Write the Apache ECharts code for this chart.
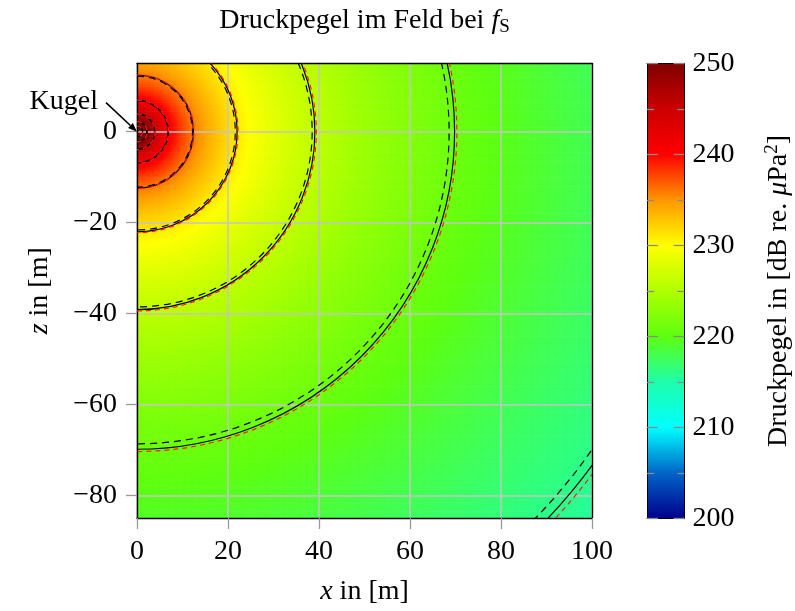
<!DOCTYPE html>
<html><head><meta charset="utf-8">
<script src="https://cdn.jsdelivr.net/npm/echarts@6/dist/echarts.min.js"></script>
<style>html,body{margin:0;padding:0;background:#fff}#c{width:795px;height:611px}</style>
</head><body><div id="c"></div>
<script>
// ---- data ----
const xTicks = [0, 20, 40, 60, 80, 100];
const zTicks = [-80, -60, -40, -20, 0];
const cbarTicks = [200, 210, 220, 230, 240, 250];
// iso-levels (dB re. µPa²) and the radii (m) where the solid contours cross them
const contourLevels = [256, 251, 246, 241, 236, 231, 226, 221, 216];
const radiusSolid  = [1.24, 2.2, 3.9, 6.9, 12.4, 22.0, 39.1, 69.8, 124.0];
const radiusDashed = [1.22, 2.15, 3.84, 6.8, 12.2, 21.6, 38.5, 68.6, 122.0];
const radiusRed    = [1.25, 2.22, 3.93, 6.95, 12.5, 22.2, 39.4, 70.3, 125.2];
// colour map stops 200,205,...,250
const mapColors = ['#00008c','#0064c8','#00ffff','#1effaa','#5cff10','#afff00','#ffff00','#ff9600','#ff0000','#cc0000','#800000'];

const FONT = '"Liberation Serif", "Times New Roman", serif';
const FS = 28;

// level field from the radial profile (log-radius between read contour radii)
function levelAt(r) {
  if (r <= radiusSolid[0]) return contourLevels[0];
  let i = 0;
  while (i < radiusSolid.length - 2 && r > radiusSolid[i + 1]) i++;
  const l0 = Math.log(radiusSolid[i]), l1 = Math.log(radiusSolid[i + 1]);
  const t = (Math.log(r) - l0) / (l1 - l0);
  const v = contourLevels[i] + t * (contourLevels[i + 1] - contourLevels[i]);
  return Math.max(200, Math.min(250, v));
}
const CELL = 0.5;
const cells = [];
for (let x = CELL / 2; x < 100; x += CELL) {
  for (let z = -85 + CELL / 2; z < 15; z += CELL) {
    cells.push([x, z, levelAt(Math.hypot(x, z))]);
  }
}

const rich = {
  n:   { fontFamily: FONT, fontSize: FS, color: '#000', lineHeight: 32 },
  i:   { fontFamily: FONT, fontSize: FS, color: '#000', lineHeight: 32, fontStyle: 'italic' },
  sub: { fontFamily: FONT, fontSize: 19, color: '#000', verticalAlign: 'bottom' },
  sup: { fontFamily: FONT, fontSize: 19, color: '#000', verticalAlign: 'top' }
};
const nameStyle = { fontFamily: FONT, fontSize: FS, color: '#000', rich: rich };
const labelStyle = { fontFamily: FONT, fontSize: FS, color: '#000' };
const minus = v => (v < 0 ? '\u2212' + (-v) : String(v));

function arcRenderer(color, dash) {
  return function (params, api) {
    const c = api.coord([0, 0]);
    const e = api.coord([api.value(0), 0]);
    return {
      type: 'arc',
      shape: { cx: c[0], cy: c[1], r: e[0] - c[0], startAngle: -Math.PI / 2, endAngle: Math.PI / 2, clockwise: true },
      style: { stroke: color, lineWidth: 1.2, fill: 'none', lineDash: dash }
    };
  };
}

const chart = echarts.init(document.getElementById('c'), null, { renderer: 'canvas' });
const option = {
  animation: false,
  backgroundColor: '#fff',
  grid: [
    { left: 137, top: 63.5, width: 455, height: 455 },
    { left: 647, top: 63.5, width: 37.5, height: 455 }
  ],
  xAxis: [
    { gridIndex: 0, type: 'value', min: 0, max: 100, interval: 20, position: 'bottom', z: 3,
      axisLine: { onZero: false, lineStyle: { color: '#000', width: 1.4 } },
      axisTick: { show: true, inside: false, length: 11, lineStyle: { color: '#999', width: 1.3 } },
      axisLabel: Object.assign({ margin: 20 }, labelStyle),
      splitLine: { show: true, lineStyle: { color: '#c4c4c4', width: 1.5 } },
      name: '{i|x}{n| in [m]}', nameLocation: 'middle', nameGap: 58, nameTextStyle: nameStyle },
    { gridIndex: 0, type: 'value', min: 0, max: 100, position: 'top', z: 3,
      axisLine: { onZero: false, lineStyle: { color: '#000', width: 1.4 } },
      axisTick: { show: false }, axisLabel: { show: false }, splitLine: { show: false },
      name: '{n|Druckpegel im Feld bei }{i|f}{sub|S}', nameLocation: 'middle', nameGap: 27, nameTextStyle: nameStyle },
    { gridIndex: 1, type: 'value', min: 0, max: 1, position: 'bottom', z: 10,
      axisLine: { onZero: false, lineStyle: { color: '#000', width: 1 } },
      axisTick: { show: false }, axisLabel: { show: false }, splitLine: { show: false } },
    { gridIndex: 1, type: 'value', min: 0, max: 1, position: 'top', z: 10,
      axisLine: { onZero: false, lineStyle: { color: '#000', width: 1 } },
      axisTick: { show: false }, axisLabel: { show: false }, splitLine: { show: false } }
  ],
  yAxis: [
    { gridIndex: 0, type: 'value', min: -85, max: 15, position: 'left', z: 3,
      axisLine: { onZero: false, lineStyle: { color: '#000', width: 1.4 } },
      axisTick: { show: true, inside: false, length: 11, customValues: zTicks, lineStyle: { color: '#999', width: 1.3 } },
      axisLabel: Object.assign({ margin: 20, customValues: zTicks, formatter: minus }, labelStyle),
      splitLine: { show: true, lineStyle: { color: '#c4c4c4', width: 1.5 } },
      name: '{i|z}{n| in [m]}', nameLocation: 'middle', nameGap: 81, nameRotate: 90, nameTextStyle: nameStyle },
    { gridIndex: 0, type: 'value', min: -85, max: 15, position: 'right', z: 3,
      axisLine: { onZero: false, lineStyle: { color: '#000', width: 1.4 } },
      axisTick: { show: false }, axisLabel: { show: false }, splitLine: { show: false } },
    { gridIndex: 1, type: 'value', min: 200, max: 250, interval: 10, position: 'left', z: 10,
      axisLine: { onZero: false, lineStyle: { color: '#000', width: 1 } },
      axisTick: { show: true, inside: true, length: 11, lineStyle: { color: '#8a8a8a', width: 1.3 } },
      minorTick: { show: true, splitNumber: 2, length: 7, lineStyle: { color: '#8a8a8a', width: 1.3 } },
      axisLabel: { show: false }, splitLine: { show: false } },
    { gridIndex: 1, type: 'value', min: 200, max: 250, interval: 10, position: 'right', z: 10,
      axisLine: { onZero: false, lineStyle: { color: '#000', width: 1 } },
      axisTick: { show: true, inside: true, length: 11, customValues: cbarTicks, lineStyle: { color: '#8a8a8a', width: 1.3 } },
      minorTick: { show: true, splitNumber: 2, length: 7, lineStyle: { color: '#8a8a8a', width: 1.3 } },
      axisLabel: Object.assign({ margin: 8, customValues: cbarTicks }, labelStyle),
      splitLine: { show: false },
      name: '{n|Druckpegel in [dB re. }{i|\u03bc}{n|Pa}{sup|2}{n|]}', nameLocation: 'middle', nameGap: 78, nameRotate: 90, nameTextStyle: nameStyle }
  ],
  visualMap: {
    type: 'continuous', seriesIndex: 0, dimension: 2, min: 200, max: 250,
    left: 647, top: 63.5, itemWidth: 37.5, itemHeight: 455, padding: 0,
    calculable: false, hoverLink: false, orient: 'vertical',
    inRange: { color: mapColors }, z: 4
  },
  series: [
    { type: 'custom', name: 'field', xAxisIndex: 0, yAxisIndex: 0, z: 1, silent: true, clip: true, progressive: 0,
      dimensions: ['x', 'z', 'level'], encode: { x: 0, y: 1 }, data: cells,
      renderItem: function (params, api) {
        const x = api.value(0), z = api.value(1), h = CELL / 2;
        const p0 = api.coord([x - h, z + h]);
        const p1 = api.coord([x + h, z - h]);
        return { type: 'rect', shape: { x: p0[0], y: p0[1], width: p1[0] - p0[0] + 0.6, height: p1[1] - p0[1] + 0.6 },
                 style: { fill: api.visual('color') } };
      } },
    { type: 'custom', name: 'dashed', xAxisIndex: 0, yAxisIndex: 0, z: 4, silent: true, clip: true,
      encode: { x: 0, y: 1 }, data: radiusDashed.map(r => [r, 0]), renderItem: arcRenderer('#000', [7, 5]) },
    { type: 'custom', name: 'solid', xAxisIndex: 0, yAxisIndex: 0, z: 5, silent: true, clip: true,
      encode: { x: 0, y: 1 }, data: radiusSolid.map(r => [r, 0]), renderItem: arcRenderer('#000', null) },
    { type: 'custom', name: 'red', xAxisIndex: 0, yAxisIndex: 0, z: 6, silent: true, clip: true,
      encode: { x: 0, y: 1 }, data: radiusRed.map(r => [r, 0]), renderItem: arcRenderer('#ff1a1a', [5, 4]) }
  ]
};
chart.setOption(option);

// "Kugel" annotation pointing at the origin
const o = chart.convertToPixel({ xAxisIndex: 0, yAxisIndex: 0 }, [0, 0]);
const dx = 31, dy = 29, L = Math.hypot(dx, dy), ux = dx / L, uy = dy / L;
const bx = o[0] - ux * 9, by = o[1] - uy * 9;
chart.setOption({
  graphic: [
    { type: 'line', z: 20, shape: { x1: o[0] - dx, y1: o[1] - dy, x2: bx, y2: by }, style: { stroke: '#000', lineWidth: 1.6 } },
    { type: 'polygon', z: 20, shape: { points: [[o[0], o[1]], [bx - uy * 3.5, by + ux * 3.5], [bx + uy * 3.5, by - ux * 3.5]] }, style: { fill: '#000' } },
    { type: 'text', z: 20, x: o[0] - 39, y: o[1] - 30, style: { text: 'Kugel', font: FS + 'px ' + FONT, fill: '#000', align: 'right', verticalAlign: 'middle' } }
  ]
});
</script></body></html>
